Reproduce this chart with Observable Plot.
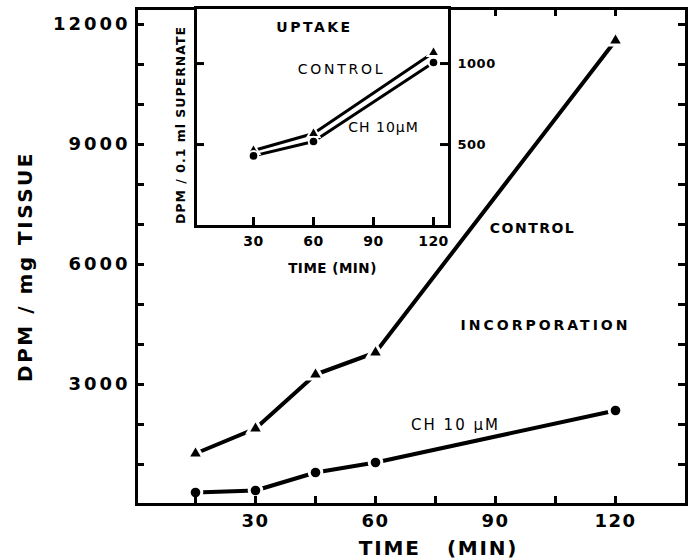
<!DOCTYPE html>
<html><head><meta charset="utf-8">
<script src="https://cdn.jsdelivr.net/npm/d3@7"></script>
<script src="https://cdn.jsdelivr.net/npm/@observablehq/plot@0.6"></script>
<style>
body{margin:0;background:#fff;}
#wrap{position:relative;width:693px;height:560px;overflow:hidden;}
#wrap > svg{position:absolute;left:0;top:0;}
#wrap > svg.inset{left:150px;}
</style></head><body><div id="wrap"></div>
<script>
// Main panel (incorporation)
const mainTime = [15, 30, 45, 60, 120];
const mainControl = [1275, 1900, 3250, 3800, 11600];
const mainCH = [300, 350, 800, 1050, 2350];
const mainXTicks = [15, 30, 45, 60, 75, 90, 105, 120];
const mainXLabels = [30, 60, 90, 120];
const mainYTicks = [1000, 2000, 3000, 4000, 5000, 6000, 7000, 8000, 9000, 10000, 11000, 12000];
const mainYLabels = [3000, 6000, 9000, 12000];
const mainBoldNotes = ["CONTROL", "INCORPORATION"];
const mainBoldX = [99.25, 102.5];
const mainBoldY = [6900, 4475];
const mainPlainNotes = ["CH 10 \u00b5M"];
const mainPlainX = [80];
const mainPlainY = [1975];

// Inset panel (uptake)
const insetTime = [30, 60, 120];
const insetControl = [463, 568, 1068];
const insetCH = [430, 519, 1006];
const insetXTicks = [30, 60, 90, 120];
const insetYTicks = [500, 1000];
const insetBoldNotes = ["UPTAKE"];
const insetBoldX = [60.5];
const insetBoldY = [1222];
const insetPlainNotes = ["CONTROL", "CH 10\u00b5M"];
const insetPlainX = [74, 95];
const insetPlainY = [963, 605];

const FONT = "DejaVu Sans";
const zip = (xs, ys) => xs.map((x, i) => ({x, y: ys[i]}));
const notes = (t, xs, ys) => t.map((text, i) => ({text, x: xs[i], y: ys[i]}));
const ident = d => d;

const mc = zip(mainTime, mainControl), mh = zip(mainTime, mainCH);
const ic = zip(insetTime, insetControl), ih = zip(insetTime, insetCH);

// main frame geometry (pixels)
const MW = 693, MH = 560, ML = 136, MR = 7, MT = 8, MB = 56;
const mFW = MW - ML - MR, mFH = MH - MT - MB, mTick = 8;

const main = Plot.plot({
  width: MW, height: MH,
  marginLeft: ML, marginRight: MR, marginTop: MT, marginBottom: MB,
  x: {domain: [0.25, 137.75]},
  y: {domain: [0, 12400]},
  style: {fontFamily: FONT, color: "black"},
  marks: [
    Plot.axisX(mainXLabels, {anchor: "bottom", tickSize: 0, tickPadding: 10, fontSize: 18, fontWeight: "bold", label: null}),
    Plot.axisY(mainYLabels, {anchor: "left", tickSize: 0, tickPadding: 6, fontSize: 18, fontWeight: "bold", tickFormat: d => String(d), label: null}),
    Plot.line(mc, {x: "x", y: "y", stroke: "black", strokeWidth: 4}),
    Plot.line(mh, {x: "x", y: "y", stroke: "black", strokeWidth: 4}),
    Plot.dot(mc, {x: "x", y: "y", symbol: "triangle", r: 3.9, fill: "black", stroke: "white", strokeWidth: 6, paintOrder: "stroke"}),
    Plot.dot(mh, {x: "x", y: "y", symbol: "circle", r: 4.8, fill: "black", stroke: "white", strokeWidth: 6, paintOrder: "stroke"}),
    Plot.text(notes(mainBoldNotes, mainBoldX, mainBoldY), {x: "x", y: "y", text: "text", fontSize: 14, fontWeight: "bold", fill: "black"}),
    Plot.text(notes(mainPlainNotes, mainPlainX, mainPlainY), {x: "x", y: "y", text: "text", fontSize: 15, fill: "black"}),
    Plot.text(["DPM / mg TISSUE"], {frameAnchor: "left", textAnchor: "middle", lineAnchor: "middle", dx: -111, dy: 10, rotate: -90, fontSize: 20, fontWeight: "bold", fill: "black"}),
    Plot.text(["TIME\u00a0\u00a0\u00a0(MIN)"], {frameAnchor: "bottom", textAnchor: "middle", lineAnchor: "middle", dx: 27, dy: 44, fontSize: 20, fontWeight: "bold", fill: "black"}),
    Plot.frame({stroke: "black", strokeWidth: 3}),
    // inward tick marks on all four sides
    Plot.tickX(mainXTicks, {x: ident, insetTop: mFH - mTick, stroke: "black", strokeWidth: 3}),
    Plot.tickX(mainXTicks, {x: ident, insetBottom: mFH - mTick, stroke: "black", strokeWidth: 3}),
    Plot.tickY(mainYTicks, {y: ident, insetRight: mFW - mTick, stroke: "black", strokeWidth: 3}),
    Plot.tickY(mainYTicks, {y: ident, insetLeft: mFW - mTick, stroke: "black", strokeWidth: 3})
  ]
});

// inset frame geometry (pixels)
const IW = 360, IH = 285, IL = 45, IR = 61, IT = 7, IB = 59;
const iFW = IW - IL - IR, iFH = IH - IT - IB, iTick = 9;

const inset = Plot.plot({
  width: IW, height: IH,
  marginLeft: IL, marginRight: IR, marginTop: IT, marginBottom: IB,
  x: {domain: [1, 128]},
  y: {domain: [-6, 1346]},
  style: {fontFamily: FONT, background: "transparent", color: "black"},
  marks: [
    Plot.frame({fill: "white", stroke: "none"}),
    Plot.axisX(insetXTicks, {anchor: "bottom", tickSize: 0, tickPadding: 10, fontSize: 14, fontWeight: "bold", label: null}),
    Plot.axisY(insetYTicks, {anchor: "right", tickSize: 0, tickPadding: 8, fontSize: 13, fontWeight: "bold", tickFormat: d => String(d), label: null}),
    Plot.line(ic, {x: "x", y: "y", stroke: "black", strokeWidth: 3}),
    Plot.line(ih, {x: "x", y: "y", stroke: "black", strokeWidth: 3}),
    Plot.dot(ic, {x: "x", y: "y", symbol: "triangle", r: 3.2, fill: "black", stroke: "white", strokeWidth: 4, paintOrder: "stroke"}),
    Plot.dot(ih, {x: "x", y: "y", symbol: "circle", r: 3.8, fill: "black", stroke: "white", strokeWidth: 4, paintOrder: "stroke"}),
    Plot.text(notes(insetBoldNotes, insetBoldX, insetBoldY), {x: "x", y: "y", text: "text", fontSize: 14, fontWeight: "bold", fill: "black"}),
    Plot.text(notes(insetPlainNotes, insetPlainX, insetPlainY), {x: "x", y: "y", text: "text", fontSize: 14, fill: "black"}),
    Plot.text(["DPM / 0.1 ml SUPERNATE"], {frameAnchor: "left", textAnchor: "middle", lineAnchor: "middle", dx: -15, dy: 8, rotate: -90, fontSize: 12.5, fontWeight: "bold", fill: "black"}),
    Plot.text(["TIME (MIN)"], {frameAnchor: "bottom", textAnchor: "middle", lineAnchor: "middle", dx: 10, dy: 42, fontSize: 13.5, fontWeight: "bold", fill: "black"}),
    Plot.frame({stroke: "black", strokeWidth: 3}),
    Plot.tickX(insetXTicks, {x: ident, insetTop: iFH - iTick, stroke: "black", strokeWidth: 3}),
    Plot.tickY(insetYTicks, {y: ident, insetRight: iFW - iTick, stroke: "black", strokeWidth: 3}),
    Plot.tickY(insetYTicks, {y: ident, insetLeft: iFW - iTick, stroke: "black", strokeWidth: 3})
  ]
});
inset.classList.add("inset");

// letter spacing, matched to the wide tracking of the original lettering
const spacing = {
  "INCORPORATION": 3, "CONTROL": 1.5, "CH 10 \u00b5M": 2, "DPM / mg TISSUE": 2.5,
  "TIME\u00a0\u00a0\u00a0(MIN)": 1.8, "UPTAKE": 2.5, "CH 10\u00b5M": 1,
  "DPM / 0.1 ml SUPERNATE": 1, "TIME (MIN)": 0.5
};
d3.select(main).selectAll('g[aria-label="y-axis tick label"] text').style("letter-spacing", "3px");
d3.select(main).selectAll('g[aria-label="x-axis tick label"] text').style("letter-spacing", "1.5px");
d3.select(inset).selectAll('g[aria-label="x-axis tick label"] text').style("letter-spacing", "0.5px");
d3.select(inset).selectAll('g[aria-label="y-axis tick label"] text').style("letter-spacing", "0.5px");
for (const svg of [main, inset]) {
  d3.select(svg).selectAll('g[aria-label="text"] text').each(function () {
    const s = spacing[this.textContent];
    if (s != null) this.style.letterSpacing = s + "px";
  });
}
d3.select(inset).selectAll('g[aria-label="text"] text').filter(function () { return this.textContent === "CONTROL"; }).style("letter-spacing", "2.7px");

const wrap = document.getElementById("wrap");
wrap.appendChild(main);
wrap.appendChild(inset);
</script></body></html>
